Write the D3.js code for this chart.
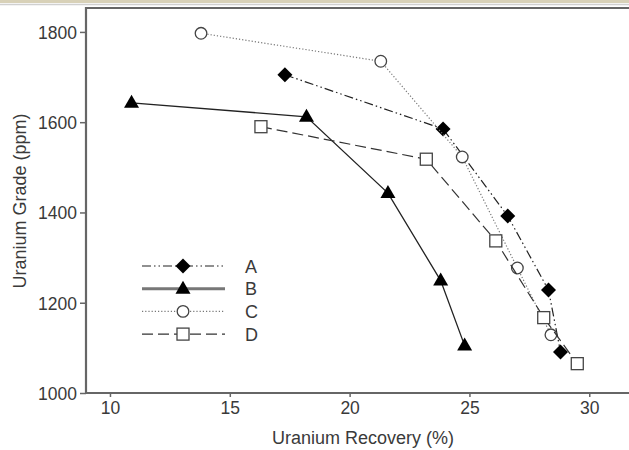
<!DOCTYPE html>
<html>
<head>
<meta charset="utf-8">
<script src="https://d3js.org/d3.v7.min.js"></script>
<style>
    body { margin: 0; padding: 0; background: #fff; }
    svg { display: block; font-family: "Liberation Sans", Arial, sans-serif; }
</style>
</head>
<body>
<div id="chart"></div>
<script>
// Data
const seriesNames = ['A', 'B', 'C', 'D'];
const recoveryA = [17.3, 23.9, 26.6, 28.3, 28.8];
const gradeA = [1705, 1585, 1392, 1228, 1091];
const recoveryB = [10.9, 18.2, 21.6, 23.8, 24.8];
const gradeB = [1643, 1612, 1443, 1249, 1105];
const recoveryC = [13.8, 21.3, 24.7, 27.0, 28.4];
const gradeC = [1797, 1735, 1523, 1277, 1129];
const recoveryD = [16.3, 23.2, 26.1, 28.1, 29.5];
const gradeD = [1590, 1518, 1337, 1167, 1065];
const xTicks = [10, 15, 20, 25, 30];
const yTicks = [1000, 1200, 1400, 1600, 1800];

const width = 629, height = 450;

const svg = d3.select('#chart').append('svg')
    .attr('width', width)
    .attr('height', height);

// page chrome strip at top
svg.append('rect').attr('x', 0).attr('y', 0).attr('width', width).attr('height', 3).attr('fill', '#d8d1b8');
svg.append('line').attr('x1', 0).attr('x2', width).attr('y1', 4.5).attr('y2', 4.5)
    .attr('stroke', '#d0d0d0').attr('stroke-width', 1.5);

const x = d3.scaleLinear().domain([9, 31.7]).range([86, 630]);
const y = d3.scaleLinear().domain([1000, 1853]).range([393, 8]);

const axisColor = '#666';
const textColor = '#3a3a3a';
const fontFamily = '"Liberation Sans", Arial, sans-serif';

// frame: left, top, bottom
svg.append('path')
    .attr('d', `M${x(31.7)},${y(1853)}H${x(9)}V${y(1000)}H${x(31.7)}`)
    .attr('fill', 'none')
    .attr('stroke', axisColor)
    .attr('stroke-width', 2.2);

const xAxis = svg.append('g')
    .attr('transform', `translate(0,${y(1000)})`)
    .call(d3.axisBottom(x).tickValues(xTicks).tickFormat(d3.format('d')).tickSize(4).tickPadding(5));
const yAxis = svg.append('g')
    .attr('transform', `translate(${x(9)},0)`)
    .call(d3.axisLeft(y).tickValues(yTicks).tickFormat(d3.format('d')).tickSize(6).tickPadding(3));

[xAxis, yAxis].forEach(g => {
    g.select('.domain').remove();
    g.selectAll('line').attr('stroke', axisColor).attr('stroke-width', 1.5);
    g.selectAll('text').attr('fill', textColor).style('font-size', '17.5px')
        .style('font-family', fontFamily);
});
yAxis.selectAll('text').attr('dy', '0.36em');

svg.append('text')
    .attr('x', 363).attr('y', 444)
    .attr('text-anchor', 'middle')
    .attr('fill', textColor)
    .style('font-size', '18px')
    .text('Uranium Recovery (%)');

svg.append('text')
    .attr('transform', 'translate(26,201) rotate(-90)')
    .attr('text-anchor', 'middle')
    .attr('fill', textColor)
    .style('font-size', '18px')
    .text('Uranium Grade (ppm)');

// series definitions
const series = [
    { name: seriesNames[0], xs: recoveryA, ys: gradeA, dash: '9,3,1.5,3,1.5,3', color: '#222', width: 1.2, symbol: 'diamond' },
    { name: seriesNames[1], xs: recoveryB, ys: gradeB, dash: null, color: '#222', width: 1.3, symbol: 'triangle' },
    { name: seriesNames[2], xs: recoveryC, ys: gradeC, dash: '1.2,2', color: '#777', width: 1.2, symbol: 'circle' },
    { name: seriesNames[3], xs: recoveryD, ys: gradeD, dash: '11,5', color: '#333', width: 1.2, symbol: 'square' }
];

const line = d3.line().x(d => x(d[0])).y(d => y(d[1]));

function drawMarker(g, symbol, cx, cy) {
    if (symbol === 'diamond') {
        g.append('path')
            .attr('d', `M${cx},${cy - 7.5}L${cx + 7.5},${cy}L${cx},${cy + 7.5}L${cx - 7.5},${cy}Z`)
            .attr('fill', '#000');
    } else if (symbol === 'triangle') {
        g.append('path')
            .attr('d', `M${cx},${cy - 8}L${cx + 7.5},${cy + 5}L${cx - 7.5},${cy + 5}Z`)
            .attr('fill', '#000');
    } else if (symbol === 'circle') {
        g.append('circle').attr('cx', cx).attr('cy', cy).attr('r', 5.8)
            .attr('fill', '#fff').attr('stroke', '#444').attr('stroke-width', 1.3);
    } else {
        g.append('rect').attr('x', cx - 6).attr('y', cy - 6).attr('width', 12).attr('height', 12)
            .attr('fill', '#fff').attr('stroke', '#444').attr('stroke-width', 1.3);
    }
}

series.forEach(s => {
    const pts = s.xs.map((v, i) => [v, s.ys[i]]);
    svg.append('path')
        .datum(pts)
        .attr('d', line)
        .attr('fill', 'none')
        .attr('stroke', s.color)
        .attr('stroke-width', s.width)
        .attr('stroke-dasharray', s.dash);
    const g = svg.append('g');
    pts.forEach(p => drawMarker(g, s.symbol, x(p[0]), y(p[1])));
});

// legend
const legend = svg.append('g');
series.forEach((s, i) => {
    const ly = 266 + i * 22.7;
    legend.append('line')
        .attr('x1', 142).attr('x2', 225).attr('y1', ly).attr('y2', ly)
        .attr('stroke', s.symbol === 'triangle' ? '#777' : s.color)
        .attr('stroke-width', s.symbol === 'triangle' ? 3 : s.width)
        .attr('stroke-dasharray', s.dash);
    drawMarker(legend, s.symbol, 183, ly);
    legend.append('text')
        .attr('x', 245).attr('y', ly + 6.5)
        .attr('fill', textColor)
        .style('font-size', '18px')
        .text(s.name);
});
</script>
</body>
</html>
